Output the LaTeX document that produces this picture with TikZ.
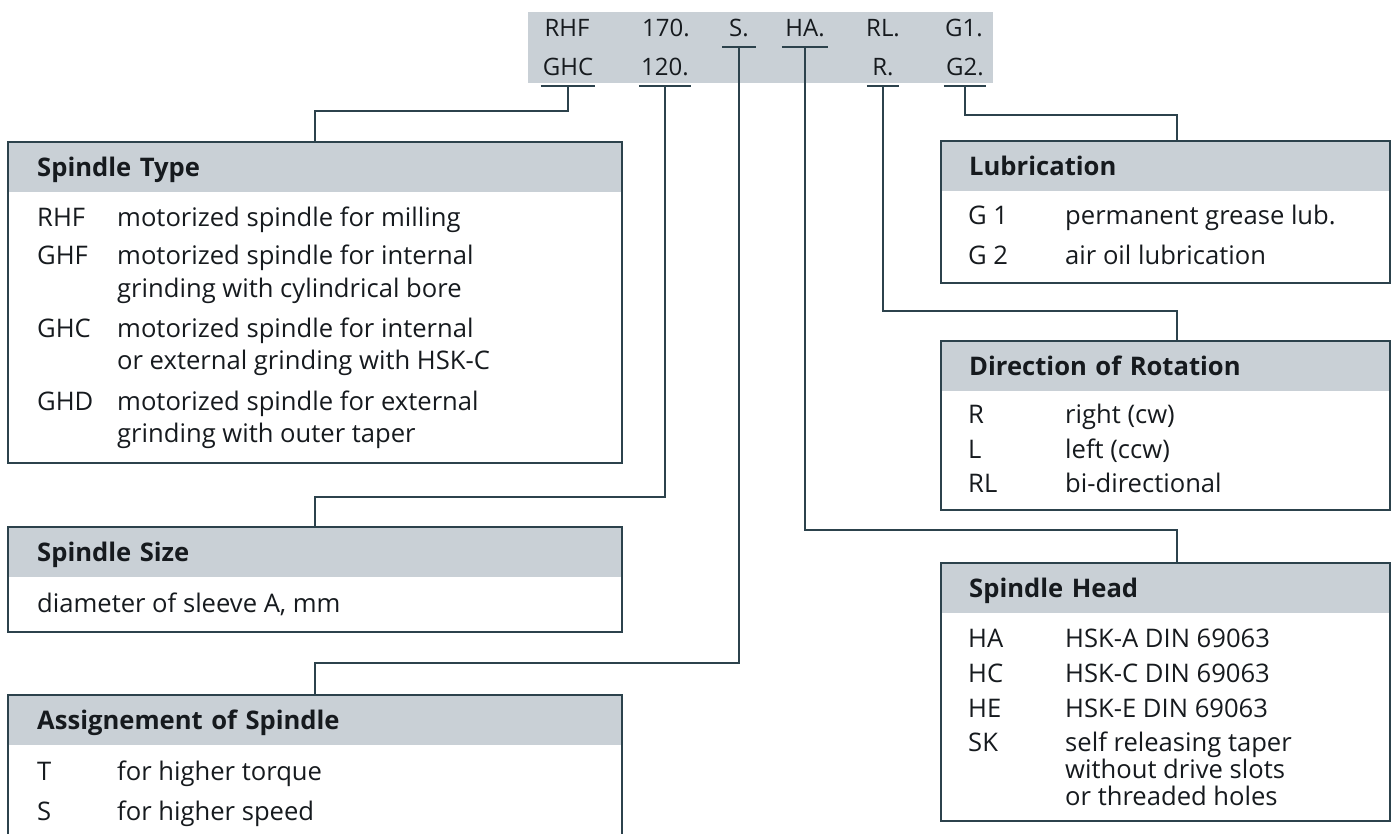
\documentclass[tikz,border=0pt]{standalone}
\usepackage{fontspec}
\setmainfont{Open Sans}
\usetikzlibrary{positioning}
\definecolor{headgray}{RGB}{201,208,214}
\definecolor{framecol}{RGB}{44,66,76}
\definecolor{inkcol}{RGB}{22,26,30}

\begin{document}
\begin{tikzpicture}[x=1pt, y=-1pt,
    every node/.style={text=inkcol, font=\fontsize{25.6}{30}\selectfont},
    boxline/.style={draw=framecol, line width=2pt},
    link/.style={draw=framecol, line width=1.8pt},
    headbar/.style={fill=headgray, anchor=north west, minimum height=50pt, inner ysep=0pt,
      text height=22pt, text depth=4pt, align=left, font=\bfseries\fontsize{25.6}{30}\selectfont},
    lefthead/.style={headbar, text width=556pt, inner xsep=29pt},
    righthead/.style={headbar, text width=393pt, inner xsep=28pt},
    leftbody/.style={inner sep=0pt, minimum width=614pt},
    rightbody/.style={inner sep=0pt, minimum width=449pt},
    item/.style={anchor=base west, inner sep=0pt},
    codetag/.style={anchor=base, inner xsep=2pt, inner ysep=10pt, text depth=0pt,
      font=\fontsize{24}{28}\selectfont}]
  \useasboundingbox (0,0) rectangle (1399,834);
  \clip (0,0) rectangle (1399,834);

  % type code
  \node[fill=headgray, anchor=north west, minimum width=465pt, minimum height=71pt, inner sep=0pt] (codes) at (528,12) {};
  \node[codetag] (cRHF) at (567,37) {RHF};
  \node[codetag] (c170) at (666,37) {170.};
  \node[codetag, minimum width=33pt] (cS) at (739,37) {S.};
  \node[codetag, minimum width=46pt] (cHA) at (805,37) {HA.};
  \node[codetag] (cRL) at (883,37) {RL.};
  \node[codetag] (cG1) at (964,37) {G1.};
  \node[codetag, minimum width=50pt] (cGHC) at (568,76) {GHC};
  \node[codetag, minimum width=50pt] (c120) at (665,76) {120.};
  \node[codetag, minimum width=32pt] (cR) at (883,76) {R.};
  \node[codetag, minimum width=42pt] (cG2) at (965,76) {G2.};
  \foreach \n in {cGHC,c120,cS,cHA,cR,cG2}
    \draw[link] (\n.south west) -- (\n.south east);

  % left column
  \node[lefthead] (typeH) at (8,142) {Spindle Type};
  \node[leftbody, below=0pt of typeH, minimum height=270pt] (typeB) {};
  \draw[boxline] (typeH.north west) rectangle (typeB.south east);
  \foreach \y/\c/\d [count=\i] in {227/RHF/motorized spindle for milling,
      265/GHF/motorized spindle for internal, 297//grinding with cylindrical bore,
      337/GHC/motorized spindle for internal, 369//or external grinding with HSK-C,
      410/GHD/motorized spindle for external, 442//grinding with outer taper}{
    \node[item] (typeC\i) at (37,\y) {\c};
    \node[item] (typeD\i) at (117,\y) {\d};
  }

  \node[lefthead] (sizeH) at (8,527) {Spindle Size};
  \node[leftbody, below=0pt of sizeH, minimum height=54pt] (sizeB) {};
  \draw[boxline] (sizeH.north west) rectangle (sizeB.south east);
  \node[item] (sizeD) at (37,612) {diameter of sleeve A, mm};

  \node[lefthead] (assignH) at (8,695) {Assignement of Spindle};
  \node[leftbody, below=0pt of assignH, minimum height=115pt] (assignB) {};
  \draw[boxline] (assignH.north west) rectangle (assignB.south east);
  \foreach \y/\c/\d [count=\i] in {780/T/for higher torque, 820/S/for higher speed}{
    \node[item] (assignC\i) at (37,\y) {\c};
    \node[item] (assignD\i) at (117,\y) {\d};
  }

  % right column
  \node[righthead] (lubH) at (941,141) {Lubrication};
  \node[rightbody, below=0pt of lubH, minimum height=91pt] (lubB) {};
  \draw[boxline] (lubH.north west) rectangle (lubB.south east);
  \foreach \y/\c/\d [count=\i] in {225/G 1/permanent grease lub., 265/G 2/air oil lubrication}{
    \node[item] (lubC\i) at (968,\y) {\c};
    \node[item] (lubD\i) at (1065,\y) {\d};
  }

  \node[righthead] (rotH) at (941,341) {Direction of Rotation};
  \node[rightbody, below=0pt of rotH, minimum height=118pt] (rotB) {};
  \draw[boxline] (rotH.north west) rectangle (rotB.south east);
  \foreach \y/\c/\d [count=\i] in {423/R/right (cw), 458/L/left (ccw), 492/RL/bi-directional}{
    \node[item] (rotC\i) at (968,\y) {\c};
    \node[item] (rotD\i) at (1065,\y) {\d};
  }

  \node[righthead] (headH) at (941,563) {Spindle Head};
  \node[rightbody, below=0pt of headH, minimum height=207pt] (headB) {};
  \draw[boxline] (headH.north west) rectangle (headB.south east);
  \foreach \y/\c/\d [count=\i] in {647/HA/HSK-A DIN 69063, 682/HC/HSK-C DIN 69063,
      717/HE/HSK-E DIN 69063, 751/SK/self releasing taper,
      778//without drive slots, 805//or threaded holes}{
    \node[item] (headC\i) at (968,\y) {\c};
    \node[item] (headD\i) at (1065,\y) {\d};
  }

  % connectors
  \draw[link] (cGHC.south) -- (cGHC.south |- 0,111) -| (typeH.north);
  \draw[link] (c120.south) -- (c120.south |- 0,497) -| (sizeH.north);
  \draw[link] (cS.south) -- (cS.south |- 0,663) -| (assignH.north);
  \draw[link] (cHA.south) -- (cHA.south |- 0,530) -| ([xshift=11.5pt]headH.north);
  \draw[link] (cR.south) -- (cR.south |- 0,311) -| ([xshift=11.5pt]rotH.north);
  \draw[link] (cG2.south) -- (cG2.south |- 0,115) -| ([xshift=11.5pt]lubH.north);
\end{tikzpicture}
\end{document}
